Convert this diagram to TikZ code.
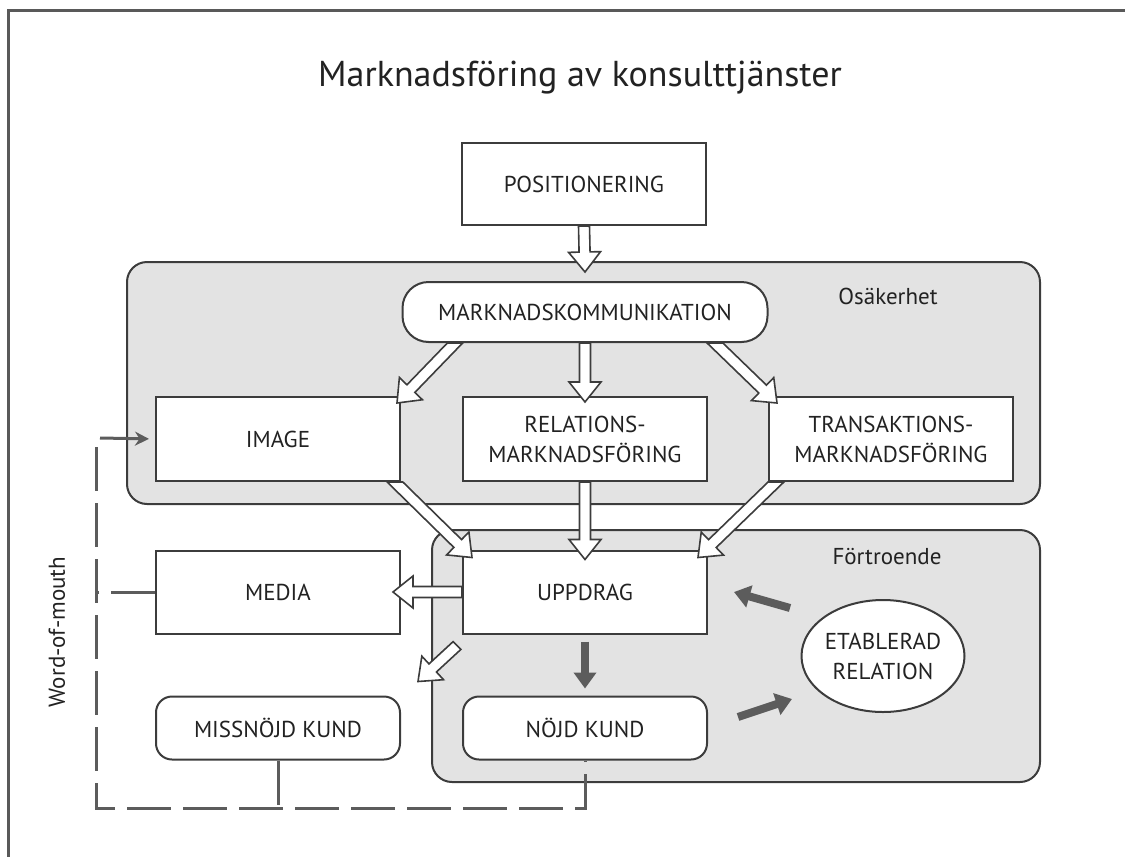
\documentclass[tikz,border=0pt]{standalone}
\usepackage{fontspec}
\setmainfont{PT Sans}
\usetikzlibrary{calc,arrows.meta,shapes.geometric}

\definecolor{linegray}{HTML}{3C3C3C}
\definecolor{fillgray}{HTML}{E3E3E3}
\definecolor{arrowgray}{HTML}{5C5C5C}
\definecolor{textgray}{HTML}{222222}

\tikzset{
  box/.style={draw=linegray, line width=1pt, fill=white, text=textgray,
    minimum width=122pt, minimum height=42pt, inner sep=0pt, align=center,
    font=\fontsize{11.5}{15}\selectfont},
  roundbox/.style={box, rounded corners=8pt, minimum height=31.5pt},
  region/.style={draw=linegray, line width=1pt, fill=fillgray, rounded corners=10pt},
  lbl/.style={text=textgray, font=\fontsize{11.5}{14}\selectfont},
  hollow/.style={draw=linegray, line width=0.8pt, fill=white, line join=miter},
  fillarrow/.style={draw=arrowgray, line width=4pt, -{Triangle[length=8pt,width=11pt]}},
  wom/.style={draw=arrowgray, line width=1.5pt, dash pattern=on 22pt off 6pt},
  womarrow/.style={draw=arrowgray, line width=1.5pt, shorten >=3pt, -{Stealth[length=7pt,width=7pt]}},
  frame/.style={draw=black!65, line width=1.5pt}
}

% hollow block arrow; optional arg = angle of the edge it starts on
\newcommand{\hollowarrow}[3][0]{%
  \draw[hollow] let \p1=(#2), \p2=(#3),
      \n1={atan2(\y2-\y1,\x2-\x1)}, \n2={2.75/sin(\n1-(#1))}, \n3={-2.75/sin(\n1-(#1))} in
    ($(\p1)+(#1:\n3*1pt)$)
    -- ($(\p2)+(\n1+180:10pt)+(\n1+90:2.75pt)$)
    -- ($(\p2)+(\n1+180:10pt)+(\n1+90:8pt)$)
    -- (\p2)
    -- ($(\p2)+(\n1+180:10pt)+(\n1-90:8pt)$)
    -- ($(\p2)+(\n1+180:10pt)+(\n1-90:2.75pt)$)
    -- ($(\p1)+(#1:\n2*1pt)$) -- cycle;}

\begin{document}
\begin{tikzpicture}[x=0.5pt,y=-0.5pt]
\useasboundingbox (0,0) rectangle (1125,857);
\draw[frame] (8,857) -- (8,10) -- (1125,10);

\node[text=textgray, font=\fontsize{18}{22}\selectfont] (title) at (580,78) {Marknadsföring av konsulttjänster};

% the two shaded areas
\draw[region] (127,262) rectangle (1040,504);
\node[lbl] (osak) at (888,296) {Osäkerhet};
\draw[region] (432,530) rectangle (1040,782);
\node[lbl] (fort) at (887,557) {Förtroende};

\node[box, minimum height=41pt] (pos) at (584,184) {POSITIONERING};
\node[box, rounded corners=13pt, minimum width=182.5pt, minimum height=30pt] (mk) at (585,312) {MARKNADSKOMMUNIKATION};
\node[box] (img) at (278,439) {IMAGE};
\node[box] (rel) at (585,439) {RELATIONS-\\MARKNADSFÖRING};
\node[box] (tra) at (891,439) {TRANSAKTIONS-\\MARKNADSFÖRING};
\node[box, minimum height=41.5pt] (upp) at (585,592) {UPPDRAG};
\node[box, minimum height=41.5pt] (media) at (278,592) {MEDIA};
\node[roundbox] (miss) at (278,728) {MISSNÖJD KUND};
\node[roundbox] (nojd) at (585,728) {NÖJD KUND};
\node[box, ellipse, minimum width=81.5pt, minimum height=56pt, inner xsep=-1pt, inner ysep=2pt] (etab) at (883,656) {ETABLERAD\\RELATION};

\hollowarrow{pos.south}{$(mk.north)+(0,-9)$}
\hollowarrow{$(mk.south)+(-130,0)$}{$(img.north east)+(-4,7)$}
\hollowarrow{mk.south}{$(rel.north)+(0,6)$}
\hollowarrow{$(mk.south)+(130,0)$}{$(tra.north west)+(9,7)$}
\hollowarrow{$(img.south east)+(-6,0)$}{$(upp.north west)+(10,8)$}
\hollowarrow{rel.south}{$(upp.north)+(0,10)$}
\hollowarrow{$(tra.south west)+(8,0)$}{$(upp.north east)+(-10,8)$}
\hollowarrow[90]{upp.west}{$(media.east)+(-8,0)$}
\hollowarrow[-45]{$(upp.south west)+(-5,11)$}{$(miss.north east)+(17,-14)$}

\draw[fillarrow] ($(upp.south)+(0,7)$) -- ($(nojd.north)+(0,-7)$);
\draw[fillarrow] ($(etab.center)+(-93,-48)$) -- ($(upp.east)+(26,0)$);
\draw[fillarrow] ($(nojd.east)+(30,-11)$) -- ($(etab.center)+(-91,43)$);

% word-of-mouth loop
\coordinate (wtop) at (96,447);
\coordinate (wbot) at (96,808);
\coordinate (warr) at (100,438);
\draw[wom] (wtop) -- (wbot) -| (nojd.south);
\draw[wom] (miss.south) -- (miss.south |- wbot);
\draw[wom] (media.west) -- (wbot |- media.west);
\draw[womarrow] (warr) -- (img.west);
\node[lbl, rotate=90] (mouth) at (57,632) {Word-of-mouth};
\end{tikzpicture}
\end{document}
